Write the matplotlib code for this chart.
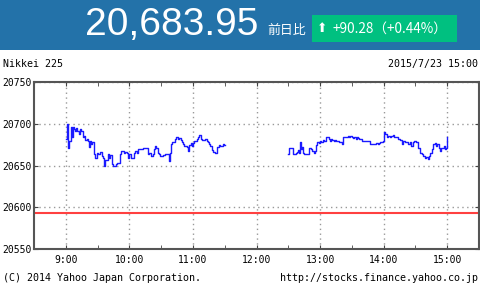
import matplotlib.pyplot as plt
from matplotlib.patches import Rectangle

# minutes after 9:00 and index value (morning session 9:00-11:30)
am_min = [0, 1, 2, 3, 5, 6, 7, 8, 9, 10, 11, 12, 13, 14, 15, 16, 17, 18, 20, 21,
          22, 23, 24, 25, 26, 27, 28, 29, 30, 31, 32, 34, 35, 36, 37, 39, 40, 41, 42, 44,
          45, 47, 48, 50, 51, 52, 54, 55, 56, 58, 59, 60, 61, 62, 64, 65, 67, 68, 70, 73,
          75, 76, 78, 79, 80, 82, 83, 84, 85, 87, 88, 89, 91, 92, 94, 95, 97, 98, 99, 100,
          102, 103, 104, 106, 107, 109, 110, 111, 112, 114, 115, 116, 118, 119, 120, 121, 123, 124, 125, 126,
          128, 129, 130, 131, 133, 134, 135, 136, 138, 139, 141, 142, 143, 145, 146, 148, 149, 150]
am_val = [20681.7, 20699.2, 20671.0, 20679.7, 20696.7, 20683.7, 20695.9, 20693.9, 20691.9, 20695.1,
          20691.9, 20687.8, 20693.9, 20691.9, 20691.1, 20683.7, 20685.0, 20680.5, 20681.7, 20679.7,
          20672.4, 20679.7, 20675.6, 20677.6, 20678.5, 20663.4, 20659.4, 20665.4, 20663.4, 20664.2,
          20666.7, 20661.4, 20659.4, 20649.2, 20656.1, 20656.1, 20664.2, 20659.4, 20662.2, 20651.2,
          20650.0, 20651.2, 20653.3, 20653.3, 20664.2, 20667.5, 20667.5, 20665.4, 20666.7, 20665.4,
          20659.4, 20664.2, 20663.4, 20659.4, 20665.4, 20667.5, 20665.4, 20669.5, 20669.5, 20670.7,
          20670.7, 20670.7, 20663.4, 20665.4, 20661.4, 20663.4, 20669.5, 20673.6, 20671.5, 20665.4,
          20664.2, 20661.4, 20661.4, 20662.6, 20663.4, 20664.2, 20655.3, 20665.4, 20675.6, 20677.6,
          20677.6, 20681.7, 20683.7, 20681.7, 20682.9, 20680.5, 20677.6, 20675.6, 20673.6, 20672.4,
          20667.5, 20674.4, 20676.4, 20673.6, 20676.4, 20678.9, 20678.9, 20681.7, 20683.7, 20686.6,
          20681.7, 20680.5, 20680.5, 20681.7, 20679.7, 20677.6, 20675.6, 20673.6, 20668.3, 20666.7,
          20665.4, 20665.4, 20672.4, 20674.8, 20673.6, 20675.6, 20674.0, 20674.8]

# minutes after 12:30 (afternoon session 12:30-15:00)
pm_min = [0, 1, 3, 4, 5, 6, 7, 8, 9, 10, 11, 12, 13, 14, 15, 16, 17, 19, 20, 21,
          22, 24, 25, 26, 27, 29, 30, 31, 33, 34, 35, 36, 38, 39, 40, 41, 43, 44, 45, 47,
          48, 50, 51, 52, 53, 55, 56, 57, 58, 60, 61, 62, 64, 65, 66, 67, 69, 70, 72, 74,
          75, 77, 78, 80, 82, 83, 85, 86, 87, 89, 90, 91, 93, 94, 96, 97, 99, 100, 102, 104,
          105, 107, 108, 110, 112, 113, 115, 116, 118, 119, 121, 122, 124, 126, 127, 129, 130, 132, 133, 134,
          136, 137, 138, 139, 140, 142, 143, 144, 146, 147, 148, 149, 150]
pm_val = [20664.2, 20670.7, 20670.7, 20664.2, 20663.4, 20664.2, 20665.4, 20666.7, 20668.3, 20665.4,
          20677.6, 20669.5, 20672.4, 20665.4, 20663.4, 20663.4, 20664.2, 20664.2, 20670.7, 20669.5,
          20667.5, 20665.4, 20667.5, 20674.8, 20677.6, 20676.4, 20678.9, 20677.6, 20680.5, 20678.9,
          20679.7, 20683.7, 20681.7, 20679.7, 20681.7, 20680.5, 20678.9, 20680.5, 20679.7, 20679.7,
          20677.6, 20677.6, 20675.6, 20683.7, 20684.5, 20684.5, 20685.7, 20684.5, 20685.7, 20683.7,
          20682.9, 20684.5, 20681.7, 20683.7, 20682.9, 20681.7, 20681.7, 20679.7, 20679.7, 20679.7,
          20679.7, 20675.6, 20675.6, 20675.6, 20675.6, 20676.4, 20675.6, 20676.4, 20677.6, 20679.7,
          20689.8, 20687.8, 20684.5, 20685.7, 20684.5, 20685.7, 20686.9, 20683.7, 20683.7, 20681.7,
          20680.5, 20675.6, 20679.7, 20677.6, 20677.6, 20675.6, 20677.6, 20673.6, 20677.6, 20679.7,
          20677.6, 20671.5, 20665.4, 20663.4, 20661.4, 20659.4, 20660.2, 20657.4, 20661.4, 20665.4,
          20669.5, 20675.6, 20676.4, 20673.6, 20675.6, 20670.7, 20667.5, 20671.5, 20671.5, 20673.6,
          20669.5, 20671.5, 20683.7]

prev_close = 20593.67
last_price = "20,683.95"
change_text = "+90.28\uff08+0.44%\uff09"
x_labels = ["9:00", "10:00", "11:00", "12:00", "13:00", "14:00", "15:00"]
y_ticks = [20550, 20600, 20650, 20700, 20750]

mono = "DejaVu Sans Mono"
cjk = ["Noto Sans CJK JP", "DejaVu Sans"]

fig = plt.figure(figsize=(4.8, 2.9), dpi=100)

# header banner
fig.patches.append(Rectangle((0, 1 - 50 / 290), 1, 50 / 290, transform=fig.transFigure,
                             facecolor="#2372a9", edgecolor="none", zorder=0))
fig.text(258 / 480, 1 - 25 / 290, last_price, color="white", fontsize=28,
         family="Liberation Sans", ha="right", va="center")
fig.text(267 / 480, 1 - 30 / 290, "前日比", color="white", fontsize=9.3,
         family=cjk, ha="left", va="center")
fig.patches.append(Rectangle((312 / 480, 1 - 42 / 290), 145 / 480, 27 / 290,
                             transform=fig.transFigure, facecolor="#00c080",
                             edgecolor="none", zorder=1))
fig.text(317 / 480, 1 - 29 / 290, "\u2b06", color="white", fontsize=9,
         family="DejaVu Sans", ha="left", va="center", zorder=2)
fig.text(333 / 480, 1 - 29 / 290, change_text, color="white", fontsize=9.8,
         family=cjk, ha="left", va="center", zorder=2)

fig.text(3 / 480, 1 - 64 / 290, "Nikkei 225", fontsize=7.2, family=mono, va="center")
fig.text(478 / 480, 1 - 64 / 290, "2015/7/23 15:00", fontsize=7.2, family=mono,
         ha="right", va="center")
fig.text(3 / 480, 1 - 278 / 290, "(C) 2014 Yahoo Japan Corporation.", fontsize=7.2,
         family=mono, va="center")
fig.text(478 / 480, 1 - 278 / 290, "http://stocks.finance.yahoo.co.jp", fontsize=7.2,
         family=mono, ha="right", va="center")

ax = fig.add_axes([34 / 480, 41 / 290, 445 / 480, 167 / 290])
ax.step(am_min, am_val, where="post", color="#1a1aff", lw=1.0, zorder=3)
ax.step([210 + m for m in pm_min], pm_val, where="post", color="#1a1aff", lw=1.0, zorder=3)
ax.axhline(prev_close, color="#ff4040", lw=1.5, zorder=2)

ax.set_xlim(-30, 390)
ax.set_ylim(20550, 20750)
ax.set_xticks(range(0, 361, 60))
ax.set_xticklabels(x_labels)
ax.set_xticks(range(30, 361, 60), minor=True)
ax.set_yticks(y_ticks)
ax.tick_params(which="both", direction="in", top=True, right=True, length=3,
               color="#444444", labelsize=7, pad=4)
ax.tick_params(axis="y", pad=2)
for lab in ax.get_xticklabels() + ax.get_yticklabels():
    lab.set_family(mono)
ax.grid(which="major", color="#999999", linestyle=(0, (1, 2.5)), lw=1)
for s in ax.spines.values():
    s.set_color("#555555")
    s.set_linewidth(1.5)

fig.savefig("out.png", dpi=100)
